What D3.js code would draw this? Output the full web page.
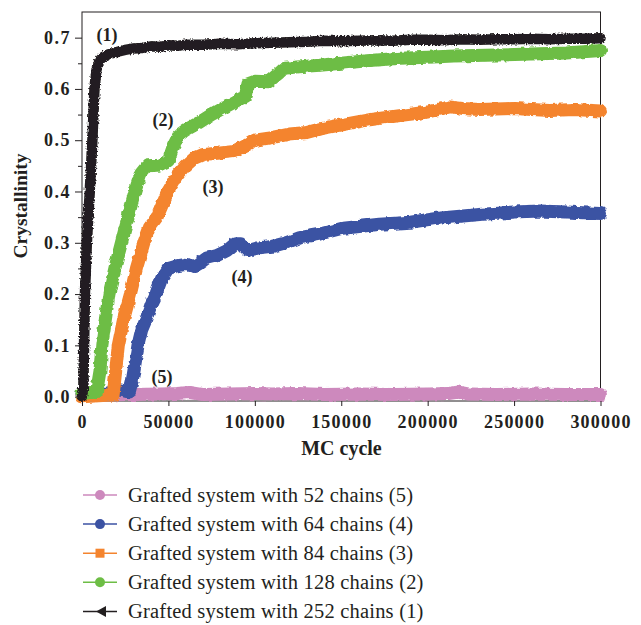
<!DOCTYPE html>
<html><head><meta charset="utf-8">
<script src="https://cdn.jsdelivr.net/npm/d3@7"></script>
<style>body{margin:0;background:#fff}svg{display:block}</style>
</head><body><svg id="c" width="641" height="625"></svg>
<script>
// ---------- data ----------
const xTicks = [0, 50000, 100000, 150000, 200000, 250000, 300000];
const yTicks = [0.0, 0.1, 0.2, 0.3, 0.4, 0.5, 0.6, 0.7];
const yMinorTicks = [0.05, 0.15, 0.25, 0.35, 0.45, 0.55, 0.65];
const xTitle = "MC cycle";
const yTitle = "Crystallinity";
const legendNames = [
  "Grafted system with 52 chains (5)",
  "Grafted system with 64 chains (4)",
  "Grafted system with 84 chains (3)",
  "Grafted system with 128 chains (2)",
  "Grafted system with 252 chains (1)"
];
const curveTags = ["(5)", "(4)", "(3)", "(2)", "(1)"];

// [MC cycle, crystallinity]
const chains52 = [[0,0.003],[30000,0.004],[45000,0.005],[55000,0.006],[62000,0.008],[70000,0.004],[85000,0.005],[100000,0.006],[110000,0.005],[125000,0.006],[140000,0.004],[160000,0.005],[180000,0.004],[200000,0.005],[212000,0.006],[218000,0.009],[224000,0.005],[240000,0.004],[260000,0.005],[280000,0.004],[300000,0.004]];
const chains64 = [[0,0.005],[15000,0.007],[19000,0.011],[22000,0.013],[25000,0.011],[27500,0.009],[29000,0.03],[30000,0.05],[32400,0.1],[34500,0.13],[37000,0.15],[40000,0.18],[42800,0.2],[46000,0.23],[50000,0.25],[55000,0.255],[60000,0.258],[65000,0.254],[68000,0.26],[72000,0.27],[78000,0.275],[84000,0.285],[88400,0.298],[92000,0.298],[96000,0.285],[102000,0.29],[110000,0.293],[118000,0.3],[126000,0.31],[137600,0.317],[150000,0.328],[172000,0.336],[190000,0.34],[206000,0.348],[230000,0.355],[250000,0.36],[265000,0.362],[280000,0.36],[300000,0.357]];
const chains84 = [[0,0.0],[12000,0.002],[18000,0.003],[19500,0.05],[21000,0.1],[24000,0.15],[28000,0.2],[31500,0.25],[35800,0.3],[39000,0.33],[43400,0.35],[49700,0.4],[55000,0.43],[60000,0.45],[65000,0.465],[70000,0.472],[80000,0.475],[88000,0.478],[95000,0.49],[100000,0.5],[110000,0.505],[120000,0.512],[130000,0.515],[137600,0.522],[150000,0.53],[166500,0.54],[183800,0.548],[200000,0.555],[212700,0.565],[220000,0.562],[230000,0.56],[250000,0.562],[270500,0.558],[285000,0.56],[300000,0.557]];
const chains128 = [[0,0.006],[5000,0.008],[8500,0.01],[10400,0.05],[11500,0.1],[13500,0.15],[15600,0.2],[19000,0.25],[22800,0.3],[26600,0.35],[30600,0.4],[34000,0.435],[37600,0.45],[44000,0.451],[50000,0.46],[53000,0.49],[56000,0.51],[60000,0.52],[68000,0.535],[75000,0.55],[83000,0.565],[90000,0.578],[94500,0.585],[96000,0.61],[100000,0.615],[108000,0.614],[113000,0.628],[117000,0.64],[125000,0.643],[137600,0.646],[150000,0.65],[165000,0.655],[183800,0.66],[200000,0.662],[215000,0.664],[240000,0.666],[260000,0.668],[280000,0.67],[300000,0.675]];
const chains252 = [[0,0.0],[800,0.02],[1200,0.1],[1700,0.2],[2800,0.3],[4500,0.4],[6000,0.5],[7200,0.6],[8500,0.64],[10000,0.655],[12000,0.662],[15000,0.667],[20000,0.672],[25000,0.676],[30000,0.679],[35000,0.68],[40000,0.683],[45000,0.682],[50000,0.685],[55000,0.684],[60000,0.686],[70000,0.686],[80000,0.688],[90000,0.687],[100000,0.689],[110000,0.69],[120000,0.691],[130000,0.692],[140000,0.694],[150000,0.693],[160000,0.694],[170000,0.695],[180000,0.694],[190000,0.696],[200000,0.696],[210000,0.695],[220000,0.697],[230000,0.696],[240000,0.697],[250000,0.697],[260000,0.698],[270000,0.697],[280000,0.698],[290000,0.698],[300000,0.699]];

const seriesData = [chains52, chains64, chains84, chains128, chains252];
const seriesColors = ["#cd89bd", "#3b52a3", "#f4842e", "#6dbd45", "#231f20"];
const seriesMarkers = ["circle", "circle", "square", "circle", "triangle"];

// ---------- layout ----------
const ink = "#231f20";
const serif = "'Liberation Serif','Times New Roman',serif";
const svg = d3.select("#c");
const x = d3.scaleLinear().domain([0, 300000]).range([82, 600.5]);
const y = d3.scaleLinear().domain([-0.0085, 0.75]).range([401, 12]);

// texture filters (rough edges of densely plotted markers)
const defs = svg.append("defs");
function roughFilter(id, freq, scale) {
  const f = defs.append("filter").attr("id", id).attr("filterUnits", "userSpaceOnUse")
    .attr("x", 0).attr("y", 0).attr("width", 641).attr("height", 625);
  f.append("feTurbulence").attr("type", "fractalNoise").attr("baseFrequency", freq)
    .attr("numOctaves", 2).attr("seed", 3).attr("result", "n");
  f.append("feDisplacementMap").attr("in", "SourceGraphic").attr("in2", "n")
    .attr("scale", scale).attr("xChannelSelector", "R").attr("yChannelSelector", "G");
}
roughFilter("roughC", 0.18, 4);
roughFilter("roughK", 0.6, 4);

// frame
svg.append("rect").attr("x", 82).attr("y", 12).attr("width", 600.5 - 82).attr("height", 401 - 12)
  .attr("fill", "none").attr("stroke", ink).attr("stroke-width", 1);

// curves
const line = d3.line().x(d => x(d[0])).y(d => y(d[1])).curve(d3.curveLinear);
seriesData.forEach((s, i) => {
  svg.append("path").datum(s).attr("d", line)
    .attr("fill", "none").attr("stroke", seriesColors[i])
    .attr("stroke-width", i === 4 ? 10.5 : 13)
    .attr("stroke-linejoin", "round").attr("stroke-linecap", "round")
    .attr("filter", i === 4 ? "url(#roughK)" : "url(#roughC)");
});

// axes
const xAxis = d3.axisBottom(x).tickValues(xTicks).tickSize(5).tickPadding(9).tickFormat(d3.format("d"));
const gx = svg.append("g").attr("transform", "translate(0,401)").call(xAxis);
gx.select(".domain").remove();
gx.selectAll("line").attr("stroke", ink);
gx.selectAll("text").attr("font-family", serif).attr("font-size", 18).attr("font-weight", "bold")
  .attr("fill", ink).attr("letter-spacing", 1.2);

const yAxis = d3.axisLeft(y).tickValues(yTicks).tickSize(7).tickPadding(4).tickFormat(d3.format(".1f"));
const gy = svg.append("g").attr("transform", "translate(82,0)").call(yAxis);
gy.select(".domain").remove();
gy.selectAll("line").attr("stroke", ink);
gy.selectAll("text").attr("font-family", serif).attr("font-size", 18).attr("font-weight", "bold")
  .attr("fill", ink).attr("letter-spacing", 1.5);
const gym = svg.append("g").attr("transform", "translate(82,0)")
  .call(d3.axisLeft(y).tickValues(yMinorTicks).tickSize(4).tickFormat(""));
gym.select(".domain").remove();
gym.selectAll("line").attr("stroke", ink);

// axis titles
svg.append("text").attr("x", 341.5).attr("y", 455).attr("text-anchor", "middle")
  .attr("font-family", serif).attr("font-size", 20).attr("font-weight", "bold").attr("fill", ink).text(xTitle);
svg.append("text").attr("transform", "translate(27,206) rotate(-90)").attr("text-anchor", "middle")
  .attr("font-family", serif).attr("font-size", 19.5).attr("font-weight", "bold").attr("fill", ink).text(yTitle);

// curve tags
const tagPos = [[162, 383], [242, 283], [213, 193], [163, 126], [107, 41]];
curveTags.forEach((t, i) => {
  svg.append("text").attr("x", tagPos[i][0]).attr("y", tagPos[i][1]).attr("text-anchor", "middle")
    .attr("font-family", serif).attr("font-size", 18).attr("font-weight", "bold").attr("fill", ink).text(t);
});

// legend
const legBase = 501.5, legStep = 29.1;
const legTexts = [];
legendNames.forEach((name, i) => {
  const by = legBase + i * legStep;
  const cy = by - 6.5;
  const g = svg.append("g");
  g.append("line").attr("x1", 83).attr("x2", 117).attr("y1", cy).attr("y2", cy)
    .attr("stroke", seriesColors[i]).attr("stroke-width", 1.5);
  const m = seriesMarkers[i];
  if (m === "circle") {
    g.append("circle").attr("cx", 100).attr("cy", cy).attr("r", 5).attr("fill", seriesColors[i]);
  } else if (m === "square") {
    g.append("rect").attr("x", 95.5).attr("y", cy - 4.5).attr("width", 9).attr("height", 9).attr("fill", seriesColors[i]);
  } else {
    g.append("path").attr("d", `M${96},${cy} L${106},${cy - 5.5} L${106},${cy + 5.5} Z`).attr("fill", seriesColors[i]);
  }
  legTexts.push(g.append("text").attr("x", 128).attr("y", by).attr("font-family", serif).attr("font-size", 20.5)
    .attr("fill", ink).text(name));
});
// fit first legend entry to the reference width (~285px) by letter spacing
const L0 = legTexts[0].node().getComputedTextLength();
const ls = Math.max(0, (285 - L0) / (legendNames[0].length - 1));
legTexts.forEach(t => t.attr("letter-spacing", ls));
</script></body></html>
